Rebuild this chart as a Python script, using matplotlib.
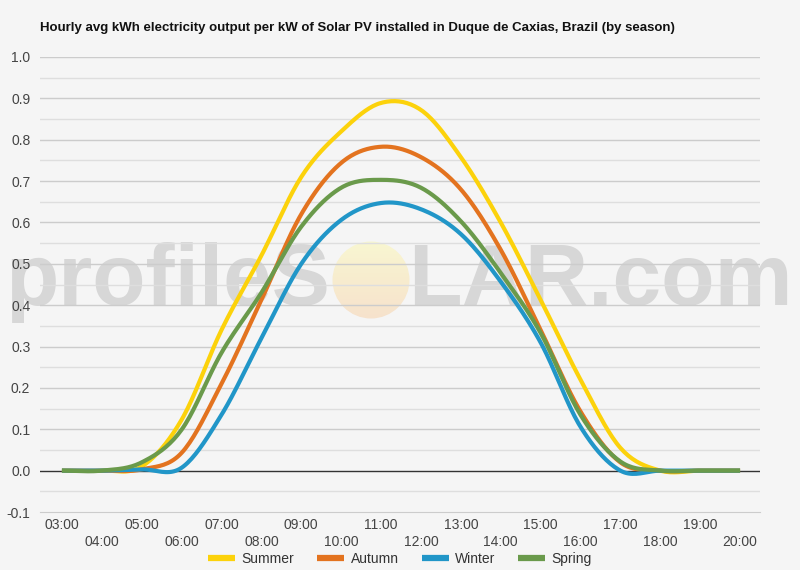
import numpy as np
import matplotlib
matplotlib.use("Agg")
import matplotlib.pyplot as plt
from matplotlib.patches import Circle

plt.rcParams['font.family'] = ['Liberation Sans', 'DejaVu Sans']

hours = list(range(3, 21))
hour_labels = [f"{h:02d}:00" for h in hours]
summer = [0.0, 0.0, 0.01, 0.123, 0.34, 0.52, 0.71, 0.82, 0.889, 0.872, 0.758, 0.60, 0.413, 0.22, 0.055, 0.0, 0.0, 0.0]
autumn = [0.0, 0.0, 0.003, 0.043, 0.21, 0.413, 0.62, 0.744, 0.783, 0.758, 0.68, 0.534, 0.34, 0.143, 0.02, 0.0, 0.0, 0.0]
winter = [0.0, 0.0, 0.003, 0.007, 0.135, 0.32, 0.50, 0.606, 0.647, 0.632, 0.572, 0.457, 0.31, 0.106, 0.0, 0.0, 0.0, 0.0]
spring = [0.0, 0.0, 0.02, 0.099, 0.285, 0.43, 0.59, 0.684, 0.703, 0.684, 0.603, 0.478, 0.333, 0.135, 0.022, 0.0, 0.0, 0.0]
series_names = ["Summer", "Autumn", "Winter", "Spring"]
series_colors = ["#fcd20b", "#e3731f", "#2196c8", "#6a9a4b"]
title = "Hourly avg kWh electricity output per kW of Solar PV installed in Duque de Caxias, Brazil (by season)"


def smooth(x, y, n=20):
    x = np.asarray(x, float); y = np.asarray(y, float)
    xs, ys = [], []
    m = len(x)
    t = np.zeros(m)
    for i in range(1, m - 1):
        t[i] = (y[i + 1] - y[i - 1]) / (x[i + 1] - x[i - 1])
    for i in range(m - 1):
        h = x[i + 1] - x[i]
        s = np.linspace(0, 1, n, endpoint=False)
        h00 = 2 * s**3 - 3 * s**2 + 1
        h10 = s**3 - 2 * s**2 + s
        h01 = -2 * s**3 + 3 * s**2
        h11 = s**3 - s**2
        xs.append(x[i] + s * h)
        ys.append(h00 * y[i] + h10 * h * t[i] + h01 * y[i + 1] + h11 * h * t[i + 1])
    xs.append([x[-1]]); ys.append([y[-1]])
    return np.concatenate(xs), np.concatenate(ys)


bg = "#f5f5f5"
fig = plt.figure(figsize=(8, 5.7), dpi=100, facecolor=bg)

# watermark layer (pixel coordinates)
wm = fig.add_axes([0, 0, 1, 1], zorder=-1)
wm.set_xlim(0, 800); wm.set_ylim(570, 0); wm.axis("off")
wmcol = "#d7d7d7"
t1 = wm.text(5, 305, "profileS", fontsize=60, fontweight="bold", color=wmcol, va="baseline", ha="left")
t2 = wm.text(408, 305, "LAR.com", fontsize=60, fontweight="bold", color=wmcol, va="baseline", ha="left")
fig.canvas.draw()
r = fig.canvas.get_renderer()
for t, target in ((t1, 325.0), (t2, 385.0)):
    w = t.get_window_extent(r).width
    t.set_fontsize(60 * target / w)
grad = np.linspace(0, 1, 256)[:, None]
top = np.array([0.975, 0.967, 0.82]); bot = np.array([0.967, 0.885, 0.80])
img = top[None, None, :] * (1 - grad[..., None]) + bot[None, None, :] * grad[..., None]
img = np.repeat(img, 4, axis=1)
im = wm.imshow(img, extent=(332, 410, 319, 241), aspect="auto", zorder=0)
circ = Circle((371, 280), 38.5, transform=wm.transData, facecolor="none", edgecolor="none")
wm.add_patch(circ)
im.set_clip_path(circ)

ax = fig.add_axes([40 / 800, 1 - 512 / 570, 720 / 800, 455 / 570])
ax.patch.set_alpha(0)
ax.set_xlim(2.45, 20.5)
ax.set_ylim(-0.1, 1.0)

for k in range(-1, 21):
    v = k * 0.05
    if k == 0 or k == -2:
        continue
    ax.axhline(v, color="#cccccc" if k % 2 == 0 else "#dedede", lw=1.0, zorder=0)
ax.axhline(0, color="#333333", lw=1.0, zorder=1)

handles = []
for name, col, data in zip(series_names, series_colors, [summer, autumn, winter, spring]):
    xs, ys = smooth(hours, data)
    ln, = ax.plot(xs, ys, color=col, lw=3.0, solid_capstyle="butt", label=name, zorder=3)
    handles.append(ln)

for s in ax.spines.values():
    s.set_visible(False)
ax.spines["bottom"].set_visible(True)
ax.spines["bottom"].set_color("#cccccc")

yt = np.arange(-0.1, 1.001, 0.1)
ax.set_yticks(yt)
ax.set_yticklabels([f"{v:.1f}" for v in yt], fontsize=10, color="#444444")
ax.set_xticks(hours)
ax.set_xticklabels([lab if i % 2 == 0 else "\n" + lab for i, lab in enumerate(hour_labels)],
                   fontsize=10, color="#444444", linespacing=1.35)
ax.tick_params(axis="both", length=0)
ax.tick_params(axis="x", pad=4)
ax.tick_params(axis="y", pad=7)

fig.text(40 / 800, 1 - 28 / 570, title, fontsize=9.5, fontweight="bold", color="#111111",
         va="center", ha="left")

leg = fig.legend(handles=handles, loc="center", bbox_to_anchor=(400 / 800, 1 - 559 / 570), ncol=4,
                 frameon=False, fontsize=10, handlelength=1.95, columnspacing=1.65, handletextpad=0.45,
                 labelcolor="#333333")
for h in leg.get_lines():
    h.set_linewidth(4.5)

fig.savefig("out.png", dpi=100, facecolor=bg)
